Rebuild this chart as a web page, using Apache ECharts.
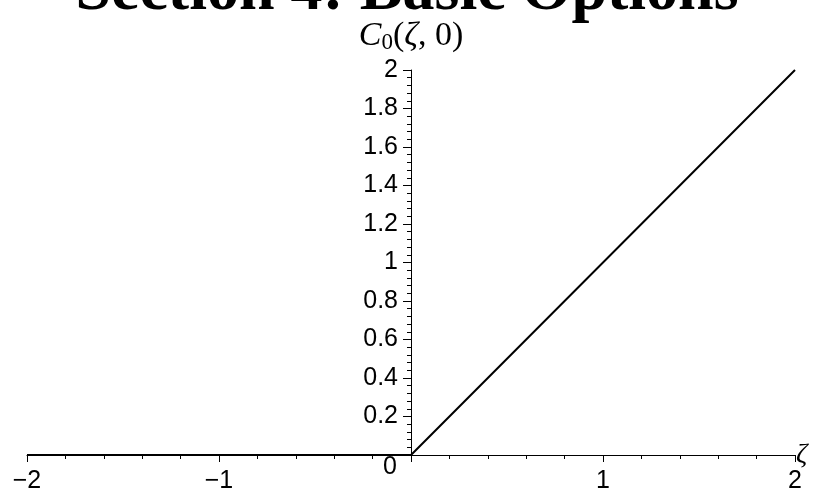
<!DOCTYPE html>
<html>
<head>
<meta charset="utf-8">
<script src="https://cdn.jsdelivr.net/npm/echarts@6/dist/echarts.min.js"></script>
<style>
  html, body { margin: 0; padding: 0; background: #fff; }
  #main { width: 814px; height: 496px; }
</style>
</head>
<body>
<div id="main"></div>
<script>
// C0(zeta, 0): zero for zeta < 0, then rises linearly
const xPoints = [-2, 0, 2];
const yPoints = [0, 0, 2];
const xTicks = [-2, -1, 0, 1, 2];

const chart = echarts.init(document.getElementById('main'));

const fmtNum = v => (v < 0 ? '\u2212' + (-v) : String(v));

const gridLeft = 27, gridRight = 19;
const plotW = 814 - gridLeft - gridRight;
// y axis sits at zeta = 0, shift it in from the left edge of the grid
const yAxisOffset = -plotW * (0 - xTicks[0]) / (xTicks[xTicks.length - 1] - xTicks[0]);

const option = {
  backgroundColor: '#fff',
  animation: false,
  title: {
    text: 'Section 4: Basic Options',
    left: 'center',
    top: -45,
    textStyle: {
      fontFamily: 'Liberation Serif',
      fontWeight: 'bold',
      fontSize: 64,
      color: '#000'
    }
  },
  grid: { left: gridLeft, right: gridRight, top: 70, bottom: 41, containLabel: false, outerBoundsMode: 'none' },
  xAxis: {
    type: 'value',
    min: xTicks[0],
    max: xTicks[xTicks.length - 1],
    interval: 1,
    name: 'ζ',
    nameLocation: 'end',
    nameGap: 1,
    nameMoveOverlap: false,
    nameTextStyle: {
      fontFamily: 'Liberation Serif',
      fontStyle: 'italic',
      fontSize: 28,
      color: '#000',
      padding: [0, 0, 26, 0]
    },
    axisLine: { onZero: false, lineStyle: { color: '#000', width: 1 } },
    axisTick: { show: true, length: 7, lineStyle: { color: '#000' } },
    minorTick: { show: true, splitNumber: 5, length: 4, lineStyle: { color: '#000' } },
    splitLine: { show: false },
    axisLabel: {
      margin: 14,
      fontFamily: 'Liberation Sans',
      fontSize: 25,
      color: '#000',
      formatter: v => (v === 0 ? '' : fmtNum(v))
    }
  },
  yAxis: {
    type: 'value',
    min: 0,
    max: 2,
    interval: 0.2,
    offset: yAxisOffset,
    name: '{i|C}{s|0}{r|(}{i|ζ}{r|, 0)}',
    nameLocation: 'end',
    nameGap: 16,
    nameTextStyle: {
      align: 'center',
      verticalAlign: 'bottom',
      rich: {
        i: { fontFamily: 'Liberation Serif', fontStyle: 'italic', fontSize: 34, color: '#000' },
        s: { fontFamily: 'Liberation Serif', fontSize: 23, color: '#000', padding: [12, 0, 0, 0] },
        r: { fontFamily: 'Liberation Serif', fontSize: 34, color: '#000' }
      }
    },
    axisLine: { onZero: false, lineStyle: { color: '#000', width: 1 } },
    axisTick: { show: true, length: 8, lineStyle: { color: '#000' } },
    minorTick: { show: true, splitNumber: 5, length: 4, lineStyle: { color: '#000' } },
    splitLine: { show: false },
    axisLabel: {
      margin: 13,
      fontFamily: 'Liberation Sans',
      fontSize: 25,
      color: '#000',
      formatter: v => (v === 0 ? '{z|0}' : fmtNum(+v.toFixed(1))),
      rich: {
        z: { fontFamily: 'Liberation Sans', fontSize: 25, color: '#000', padding: [24, 1, 0, 0] }
      }
    }
  },
  series: [{
    type: 'line',
    data: xPoints.map((x, i) => [x, yPoints[i]]),
    showSymbol: false,
    symbol: 'none',
    lineStyle: { color: '#000', width: 2 },
    clip: false
  }]
};

chart.setOption(option);
</script>
</body>
</html>
